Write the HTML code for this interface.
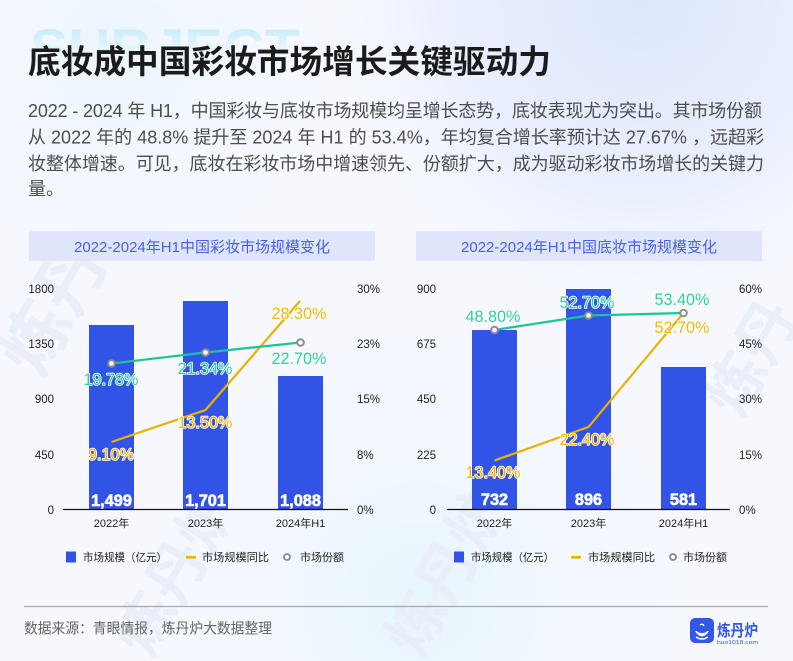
<!DOCTYPE html>
<html><head><meta charset="utf-8"><style>
html,body{margin:0;padding:0;width:793px;height:661px;overflow:hidden;background:#f6f8fe;}
svg{display:block;}
text{font-family:"Liberation Sans","Noto Sans CJK SC",sans-serif;}
</style></head><body>
<svg width="793" height="661" viewBox="0 0 793 661" xmlns="http://www.w3.org/2000/svg">
<defs>
<radialGradient id="g1" cx="640" cy="0" r="330" gradientUnits="userSpaceOnUse">
<stop offset="0" stop-color="#dfe7fd"/><stop offset="0.6" stop-color="#eaf0fd"/><stop offset="1" stop-color="#f6f8fe" stop-opacity="0"/>
</radialGradient>
<radialGradient id="g2" cx="120" cy="60" r="260" gradientUnits="userSpaceOnUse">
<stop offset="0" stop-color="#eaf6fc"/><stop offset="1" stop-color="#f6f8fe" stop-opacity="0"/>
</radialGradient>
<radialGradient id="g3" cx="420" cy="600" r="330" gradientUnits="userSpaceOnUse">
<stop offset="0" stop-color="#e6f6fc"/><stop offset="1" stop-color="#f6f8fe" stop-opacity="0"/>
</radialGradient>
<linearGradient id="sj" x1="0" y1="28" x2="0" y2="62" gradientUnits="userSpaceOnUse">
<stop offset="0" stop-color="#c6ebfb"/><stop offset="1" stop-color="#eef8fd" stop-opacity="0.3"/>
</linearGradient>
</defs>
<rect width="793" height="661" fill="#f6f8fe"/>
<rect width="793" height="661" fill="url(#g2)"/>
<rect width="793" height="661" fill="url(#g3)"/>
<rect width="793" height="661" fill="url(#g1)"/>

<!-- faint watermarks -->
<g fill="#e9eef9" font-weight="bold">
<text x="40" y="380" font-size="70" transform="rotate(-60 40 380)">炼丹</text>
<text x="150" y="660" font-size="60" transform="rotate(-60 150 660)">炼丹炉</text>
<text x="420" y="660" font-size="60" transform="rotate(-60 420 660)">炼丹炉</text>
<text x="740" y="420" font-size="60" transform="rotate(-60 740 420)">炼丹</text>
</g>
<text x="30" y="68" font-size="56" font-weight="bold" fill="url(#sj)" textLength="270" lengthAdjust="spacingAndGlyphs">SUBJECT</text>

<!-- title -->
<text x="28" y="73" font-size="32.5" font-weight="bold" fill="#1b1b1b" textLength="523" lengthAdjust="spacingAndGlyphs">底妆成中国彩妆市场增长关键驱动力</text>

<!-- body -->
<g font-size="18" fill="#4d4d4d">
<text x="28" y="117" textLength="734" lengthAdjust="spacing">2022 - 2024 年 H1，中国彩妆与底妆市场规模均呈增长态势，底妆表现尤为突出。其市场份额</text>
<text x="28" y="143.5" textLength="736" lengthAdjust="spacing">从 2022 年的 48.8% 提升至 2024 年 H1 的 53.4%，年均复合增长率预计达 27.67% ，远超彩</text>
<text x="28" y="170" textLength="736" lengthAdjust="spacing">妆整体增速。可见，底妆在彩妆市场中增速领先、份额扩大，成为驱动彩妆市场增长的关键力</text>
<text x="28" y="195">量。</text>
</g>

<!-- ============ LEFT CHART ============ -->
<rect x="29" y="231" width="346" height="30" fill="#dfe6fb"/>
<text x="202" y="252" font-size="15" fill="#4a5ee6" text-anchor="middle">2022-2024年H1中国彩妆市场规模变化</text>

<g font-size="11.5" fill="#222">
<g text-anchor="end">
<text x="54" y="293">1800</text>
<text x="54" y="348">1350</text>
<text x="54" y="403">900</text>
<text x="54" y="459">450</text>
<text x="54" y="514">0</text>
</g>
<text x="357" y="293">30%</text>
<text x="357" y="348">23%</text>
<text x="357" y="403">15%</text>
<text x="357" y="459">8%</text>
<text x="357" y="514">0%</text>
</g>

<g fill="#3254e6">
<rect x="89" y="325" width="45" height="184.5"/>
<rect x="183" y="301" width="45" height="208.5"/>
<rect x="278" y="376" width="45" height="133.5"/>
</g>
<line x1="63" y1="509.5" x2="348" y2="509.5" stroke="#111" stroke-width="1.3"/>

<g font-size="11" fill="#222" text-anchor="middle">
<text x="111.5" y="527">2022年</text>
<text x="205.5" y="527">2023年</text>
<text x="300.5" y="527">2024年H1</text>
</g>

<polyline points="111.5,442 205.5,410 300,301" fill="none" stroke="#eab200" stroke-width="2.2"/>
<polyline points="111.5,363.5 205.5,352.5 300.5,342.5" fill="none" stroke="#1cc497" stroke-width="2.2"/>
<g fill="#fff" stroke="#8e8e8e" stroke-width="2">
<circle cx="111.5" cy="363.5" r="3.3"/>
<circle cx="205.5" cy="352.5" r="3.3"/>
<circle cx="300.5" cy="342.5" r="3.3"/>
</g>

<g font-size="16.2" text-anchor="middle" stroke="#fff" stroke-width="1.6" paint-order="stroke" stroke-linejoin="round">
<g fill="#2ccf9e">
<text x="111" y="385">19.78%</text>
<text x="205" y="374">21.34%</text>
<text x="299" y="364">22.70%</text>
</g>
<g fill="#f2b705">
<text x="111" y="460">9.10%</text>
<text x="205" y="428">13.50%</text>
<text x="299" y="319">28.30%</text>
</g>
</g>
<g font-size="16.3" font-weight="bold" fill="#fff" text-anchor="middle" stroke="#fff" stroke-width="0.6">
<text x="111.5" y="506">1,499</text>
<text x="205.5" y="506">1,701</text>
<text x="300.5" y="506">1,088</text>
</g>

<!-- ============ RIGHT CHART ============ -->
<rect x="416" y="231" width="346" height="30" fill="#dfe6fb"/>
<text x="589" y="252" font-size="15" fill="#4a5ee6" text-anchor="middle">2022-2024年H1中国底妆市场规模变化</text>

<g font-size="11.5" fill="#222">
<g text-anchor="end">
<text x="436" y="293">900</text>
<text x="436" y="348">675</text>
<text x="436" y="403">450</text>
<text x="436" y="459">225</text>
<text x="436" y="514">0</text>
</g>
<text x="739" y="293">60%</text>
<text x="739" y="348">45%</text>
<text x="739" y="403">30%</text>
<text x="739" y="459">15%</text>
<text x="739" y="514">0%</text>
</g>

<g fill="#3254e6">
<rect x="472" y="330" width="45" height="179.5"/>
<rect x="566" y="289" width="45" height="220.5"/>
<rect x="661" y="367" width="45" height="142.5"/>
</g>
<line x1="447" y1="509.5" x2="730" y2="509.5" stroke="#111" stroke-width="1.3"/>

<g font-size="11" fill="#222" text-anchor="middle">
<text x="494.5" y="527">2022年</text>
<text x="588.5" y="527">2023年</text>
<text x="683.5" y="527">2024年H1</text>
</g>

<polyline points="494.5,460.5 588.5,427 683.5,313" fill="none" stroke="#eab200" stroke-width="2.2"/>
<polyline points="494.5,330 588.5,315.5 683.5,313" fill="none" stroke="#1cc497" stroke-width="2.2"/>
<g fill="#fff" stroke="#8e8e8e" stroke-width="2">
<circle cx="494.5" cy="330" r="3.3"/>
<circle cx="588.5" cy="315.5" r="3.3"/>
<circle cx="683.5" cy="313" r="3.3"/>
</g>

<g font-size="16.2" text-anchor="middle" stroke="#fff" stroke-width="1.6" paint-order="stroke" stroke-linejoin="round">
<g fill="#2ccf9e">
<text x="493" y="322">48.80%</text>
<text x="587" y="308">52.70%</text>
<text x="682" y="305">53.40%</text>
</g>
<g fill="#f2b705">
<text x="493" y="478">13.40%</text>
<text x="587" y="445">22.40%</text>
<text x="682" y="333">52.70%</text>
</g>
</g>
<g font-size="16.3" font-weight="bold" fill="#fff" text-anchor="middle" stroke="#fff" stroke-width="0.6">
<text x="494.5" y="505">732</text>
<text x="588.5" y="505">896</text>
<text x="683.5" y="505">581</text>
</g>

<!-- legends -->
<g font-size="11" fill="#222">
<rect x="66" y="551.5" width="10" height="11" fill="#3254e6"/>
<text x="83" y="561" textLength="84" lengthAdjust="spacingAndGlyphs">市场规模（亿元）</text>
<rect x="186" y="556" width="10" height="2.6" fill="#f0b400"/>
<text x="202" y="561" textLength="67" lengthAdjust="spacingAndGlyphs">市场规模同比</text>
<circle cx="287" cy="557" r="3" fill="#fff" stroke="#888" stroke-width="1.8"/>
<text x="300" y="561" textLength="44" lengthAdjust="spacingAndGlyphs">市场份额</text>

<rect x="454" y="551.5" width="10" height="11" fill="#3254e6"/>
<text x="471" y="561" textLength="83" lengthAdjust="spacingAndGlyphs">市场规模（亿元）</text>
<rect x="571" y="556" width="10" height="2.6" fill="#f0b400"/>
<text x="588" y="561" textLength="67" lengthAdjust="spacingAndGlyphs">市场规模同比</text>
<circle cx="673" cy="557" r="3" fill="#fff" stroke="#888" stroke-width="1.8"/>
<text x="683" y="561" textLength="44" lengthAdjust="spacingAndGlyphs">市场份额</text>
</g>

<!-- footer -->
<line x1="24" y1="606.5" x2="768" y2="606.5" stroke="#a8a8a8" stroke-width="1.2"/>
<text x="24" y="633.5" font-size="14.5" fill="#666" textLength="248" lengthAdjust="spacingAndGlyphs">数据来源：青眼情报，炼丹炉大数据整理</text>

<!-- logo -->
<rect x="690" y="618" width="24" height="25" rx="5" fill="#3357e8"/>
<path d="M695 631 Q702 642 709 631 Z" fill="#fff"/>
<ellipse cx="702" cy="631" rx="5" ry="2" fill="#3357e8"/>
<path d="M700 625 q3 -2 4 1" fill="none" stroke="#fff" stroke-width="1.4"/>
<path d="M696 637 q6 4 12 0" fill="none" stroke="#fff" stroke-width="1.4"/>
<text x="717" y="636" font-size="16" font-weight="bold" fill="#3357e8" textLength="41" lengthAdjust="spacingAndGlyphs">炼丹炉</text>
<text x="717" y="644" font-size="5.5" fill="#3357e8" textLength="41" lengthAdjust="spacingAndGlyphs">huo1018.com</text>
</svg>
</body></html>
